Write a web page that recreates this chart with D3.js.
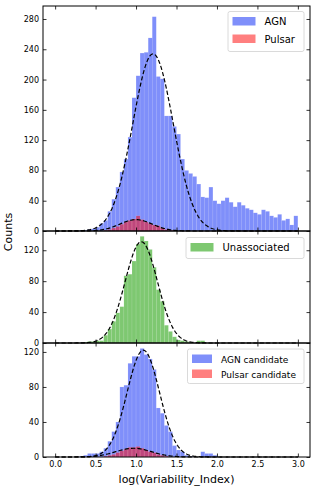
<!DOCTYPE html>
<html>
<head>
<meta charset="utf-8">
<script src="https://cdn.jsdelivr.net/npm/d3@7"></script>
<style>
  html, body { margin: 0; padding: 0; background: #fff; }
  svg { display: block; font-family: "DejaVu Sans", sans-serif; }
</style>
</head>
<body>
<svg id="chart"></svg>
<script>
// histogram bins: 0.05 wide from 0.0 to 3.0
const binWidth = 0.05;
const binLeft = d3.range(0, 60).map(i => +(i * binWidth).toFixed(2));

const agnCounts = [0,0,0,0,0,0,1,1,2,3, 5,10,14,26,42,58,78,95,124,176,
  205,235,236,255,283,204,201,152,152,138, 128,95,80,76,72,62,45,44,58,40,
  36,40,44,38,32,38,34,30,28,24, 22,28,26,20,18,22,14,16,8,20];
const psrCounts = [0,0,0,0,0,0,0,0,0,0, 0,0,1,2,4,6,9,12,14,16,
  20,15,12,10,8,7,4,2,1,1, 0,0,0,0,0,0,0,0,0,0,
  0,0,0,0,0,0,0,0,0,0, 0,0,0,0,0,0,0,0,0,0];
const unassocCounts = [0,0,0,0,0,0,0,1,2,2, 3,3,10,18,28,39,47,87,89,106,
  128,138,132,121,98,69,54,23,15,8, 4,3,2,1,0,3,3,0,0,0,
  0,0,0,0,0,0,0,0,0,0, 0,0,0,0,0,0,0,0,0,0];
const agnCandCounts = [0,0,0,0,0,0,1,2,4,4, 4,6,10,18,29,40,80,82,107,115,
  115,124,117,112,100,56,50,36,29,13, 8,6,2,1,0,0,6,4,4,2,
  0,0,0,0,0,0,0,0,0,0, 0,0,0,0,0,0,0,0,0,0];
const psrCandCounts = [0,0,0,0,0,0,0,0,0,0, 0,0,1,2,3,5,7,9,11,11,
  12,10,8,6,5,3,2,1,0,0, 0,0,0,0,0,0,0,0,0,0,
  0,0,0,0,0,0,0,0,0,0, 0,0,0,0,0,0,0,0,0,0];

// gaussian fits [amplitude, mean, sigma]
const agnFit = [234, 1.21, 0.25];
const psrFit = [15, 1.0, 0.2];
const unassocFit = [131, 1.065, 0.2];
const agnCandFit = [122, 1.09, 0.2];
const psrCandFit = [10, 0.97, 0.22];

const xTicks = [0, 0.5, 1.0, 1.5, 2.0, 2.5, 3.0];
const yTicksTop = [0, 40, 80, 120, 160, 200, 240, 280];
const yTicksLow = [0, 40, 80, 120];

const W = 316, H = 490;
const left = 43, right = 310;
const BLUE = '#0020f5', RED = '#ff0000', GREEN = '#4cb33a';

const svg = d3.select('#chart').attr('width', W).attr('height', H);

const x = d3.scaleLinear().domain([-0.15, 3.15]).range([left, right]);

const panels = [
  { top: 6, bottom: 231, series: [agnCounts, psrCounts], colors: [BLUE, RED], alpha: [0.5, 0.5],
    fits: [agnFit, psrFit], yTicks: yTicksTop, names: ['AGN', 'Pulsar'],
    legend: { x: 228, y: 11.5, w: 76, h: 40, row: 17.5, fs: 10, pw: 23 } },
  { top: 231, bottom: 343, series: [unassocCounts], colors: [GREEN], alpha: [0.72],
    fits: [unassocFit], yTicks: yTicksLow, names: ['Unassociated'],
    legend: { x: 186, y: 237.5, w: 118, h: 21, row: 17.5, fs: 10, pw: 23 } },
  { top: 343, bottom: 457, series: [agnCandCounts, psrCandCounts], colors: [BLUE, RED], alpha: [0.5, 0.5],
    fits: [agnCandFit, psrCandFit], yTicks: yTicksLow, names: ['AGN candidate', 'Pulsar candidate'],
    legend: { x: 187.5, y: 349, w: 116.5, h: 34.5, row: 15, fs: 9, pw: 20 } }
];

const curveX = d3.range(0, 3.0001, 0.01);
const gauss = (p, v) => p[0] * Math.exp(-0.5 * ((v - p[1]) / p[2]) ** 2);

panels.forEach((p, pi) => {
  const ymax = d3.max(p.series.flat()) * 1.05;
  const y = d3.scaleLinear().domain([0, ymax]).range([p.bottom, p.top]);
  const g = svg.append('g');

  // bars
  p.series.forEach((counts, si) => {
    g.append('g')
      .selectAll('rect')
      .data(counts.map((c, i) => ({ x0: binLeft[i], c })).filter(d => d.c > 0))
      .join('rect')
      .attr('x', d => x(d.x0))
      .attr('width', x(binWidth) - x(0))
      .attr('y', d => y(d.c))
      .attr('height', d => y(0) - y(d.c))
      .attr('fill', p.colors[si])
      .attr('fill-opacity', p.alpha[si])
      .attr('stroke', '#fff')
      .attr('stroke-opacity', 0.25)
      .attr('stroke-width', 0.4);
  });

  // gaussian fits
  const line = d3.line().x(v => x(v));
  p.fits.forEach(f => {
    g.append('path')
      .attr('d', line.y(v => y(gauss(f, v)))(curveX))
      .attr('fill', 'none')
      .attr('stroke', '#000')
      .attr('stroke-width', 1.2)
      .attr('stroke-dasharray', '4.2,2.2');
  });

  // axes, ticks inward on all sides
  const tk = 3.5;
  const yl = g.append('g').attr('transform', `translate(${left},0)`)
    .call(d3.axisLeft(y).tickValues(p.yTicks).tickSize(-tk).tickPadding(4));
  const yr = g.append('g').attr('transform', `translate(${right},0)`)
    .call(d3.axisRight(y).tickValues(p.yTicks).tickSize(-tk).tickFormat(''));
  const xb = g.append('g').attr('transform', `translate(0,${p.bottom})`)
    .call(d3.axisBottom(x).tickValues(xTicks).tickSize(-tk).tickPadding(4)
      .tickFormat(pi === 2 ? d3.format('.1f') : ''));
  const xt = g.append('g').attr('transform', `translate(0,${p.top})`)
    .call(d3.axisTop(x).tickValues(xTicks).tickSize(-tk).tickFormat(''));
  [yl, yr, xb, xt].forEach(a => {
    a.select('.domain').remove();
    a.selectAll('line').attr('stroke', '#000').attr('stroke-width', 0.8);
    a.selectAll('text').attr('fill', '#000').style('font-size', '8px')
      .style('font-family', '"DejaVu Sans", sans-serif');
  });

  g.append('rect')
    .attr('x', left).attr('y', p.top)
    .attr('width', right - left).attr('height', p.bottom - p.top)
    .attr('fill', 'none').attr('stroke', '#000').attr('stroke-width', 1);

  // legend
  const L = p.legend;
  const lg = g.append('g').attr('transform', `translate(${L.x},${L.y})`);
  lg.append('rect')
    .attr('width', L.w).attr('height', L.h).attr('rx', 2)
    .attr('fill', '#fff').attr('fill-opacity', 0.8)
    .attr('stroke', '#d0d0d0').attr('stroke-width', 0.8);
  p.names.forEach((n, i) => {
    const ry = 5.5 + i * L.row;
    lg.append('rect')
      .attr('x', 4.5).attr('y', ry).attr('width', L.pw).attr('height', 8.5)
      .attr('fill', p.colors[i]).attr('fill-opacity', p.alpha[i]);
    lg.append('text')
      .attr('x', 4.5 + L.pw + 9).attr('y', ry + 8.3)
      .style('font-size', L.fs + 'px')
      .attr('fill', '#000')
      .text(n);
  });
});

svg.append('text')
  .attr('transform', `translate(12,232) rotate(-90)`)
  .attr('text-anchor', 'middle')
  .style('font-size', '11px')
  .text('Counts');

svg.append('text')
  .attr('x', (left + right) / 2).attr('y', 483)
  .attr('text-anchor', 'middle')
  .style('font-size', '11px')
  .text('log(Variability_Index)');
</script>
</body>
</html>
